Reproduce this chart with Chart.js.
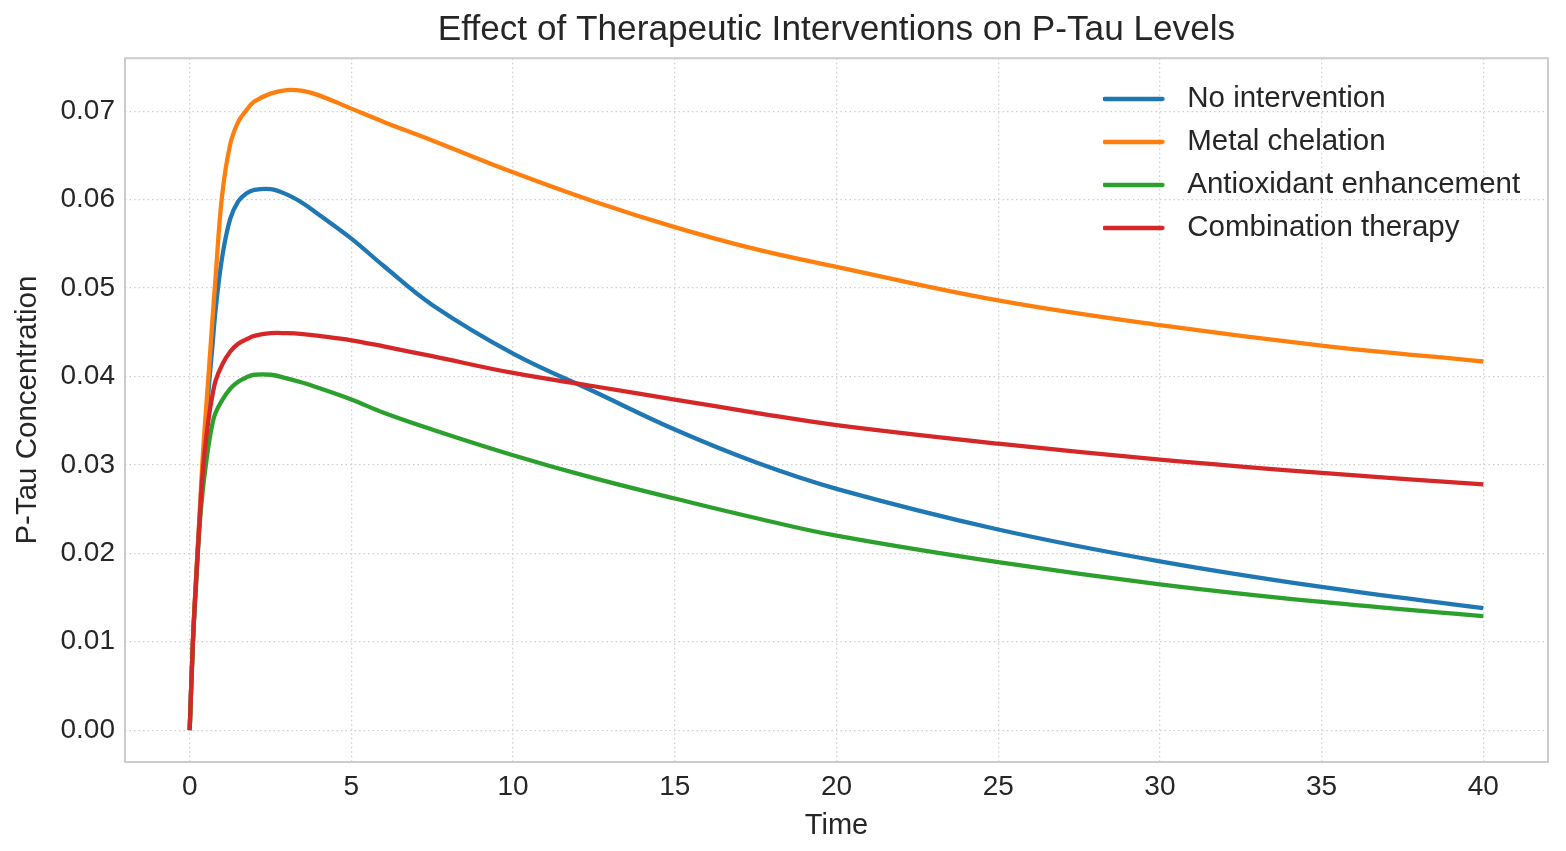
<!DOCTYPE html>
<html>
<head>
<meta charset="utf-8">
<title>Effect of Therapeutic Interventions on P-Tau Levels</title>
<script src="https://cdn.jsdelivr.net/npm/chart.js@4.4.1/dist/chart.umd.min.js"></script>
<style>
  html, body { margin: 0; padding: 0; background: #fff; }
  #wrap { width: 1566px; height: 851px; }
</style>
</head>
<body>
<div id="wrap"><canvas id="myChart" width="1566" height="851"></canvas></div>
<script>
// values
var times = [0, 0.1, 0.2, 0.3, 0.4, 0.5, 0.6, 0.7, 0.8, 1.0, 1.25, 1.5, 1.75, 2.0, 2.5, 3.0, 3.5, 4.0,
             5, 6, 7.5, 10, 12.5, 15, 17.5, 20, 25, 30, 35, 40];
var noIntervention = [0, 0.0100, 0.0172, 0.0236, 0.0295, 0.0345, 0.0392, 0.0433, 0.0475, 0.0534, 0.0578, 0.0598,
                      0.0607, 0.0611, 0.0612, 0.0606, 0.0596, 0.0583, 0.0556, 0.0525, 0.0481, 0.0426, 0.0383,
                      0.0340, 0.0303, 0.0273, 0.0227, 0.0191, 0.0162, 0.0138];
var metalChelation = [0, 0.0102, 0.0175, 0.0240, 0.0307, 0.0360, 0.0410, 0.0462, 0.0512, 0.0604, 0.0662, 0.0688,
                      0.0701, 0.0711, 0.0720, 0.0724, 0.0723, 0.0718, 0.0703, 0.0688, 0.0667, 0.0631, 0.0598,
                      0.0569, 0.0544, 0.0524, 0.0486, 0.0458, 0.0435, 0.0417];
var antioxidant = [0, 0.0098, 0.0166, 0.0228, 0.0270, 0.0300, 0.0326, 0.0346, 0.0359, 0.0373, 0.0386, 0.0394,
                   0.0399, 0.0402, 0.0402, 0.0398, 0.0393, 0.0387, 0.0374, 0.0359, 0.0340, 0.0311, 0.0285,
                   0.0262, 0.0240, 0.0220, 0.0190, 0.0165, 0.0145, 0.0129];
var combination = [0, 0.0100, 0.0170, 0.0232, 0.0290, 0.0327, 0.0356, 0.0378, 0.0395, 0.0413, 0.0428, 0.0437,
                   0.0442, 0.0446, 0.0449, 0.0449, 0.0448, 0.0446, 0.0441, 0.0434, 0.0423, 0.0404, 0.0389,
                   0.0374, 0.0359, 0.0345, 0.0324, 0.0306, 0.0291, 0.0278];
var seriesNames = ['No intervention', 'Metal chelation', 'Antioxidant enhancement', 'Combination therapy'];
var seriesColors = ['#1f77b4', '#ff7f0e', '#2ca02c', '#d62728'];
var xTicks = [0, 5, 10, 15, 20, 25, 30, 35, 40];
var yTicks = [0, 0.01, 0.02, 0.03, 0.04, 0.05, 0.06, 0.07];

Chart.defaults.font.family = "'Liberation Sans', Arial, sans-serif";
Chart.defaults.color = '#262626';

function toPoints(values) {
  return values.map(function(v, i) { return {x: times[i], y: v}; });
}

// short line sample used as the legend marker
function legendLine(color) {
  var c = document.createElement('canvas');
  c.width = 70; c.height = 8;
  var g = c.getContext('2d');
  g.strokeStyle = color; g.lineWidth = 4.3; g.lineCap = 'round';
  g.beginPath(); g.moveTo(2, 4); g.lineTo(60, 4); g.stroke();
  return c;
}

var framePlugin = {
  id: 'frame',
  beforeDatasetsDraw: function(chart) {
    var a = chart.chartArea, ctx = chart.ctx;
    ctx.save();
    ctx.strokeStyle = '#cccccc';
    ctx.lineWidth = 2;
    ctx.strokeRect(a.left, a.top, a.right - a.left, a.bottom - a.top);
    ctx.restore();
  }
};

// put the legend in the upper right corner of the plot
var legendPlugin = {
  id: 'legendInside',
  afterLayout: function(chart) {
    var l = chart.legend, a = chart.chartArea;
    l.left = a.right - 459;
    l.right = l.left + l.width;
    l.top = a.top + 12.5;
    l.bottom = l.top + l.height;
  }
};

var allSeries = [noIntervention, metalChelation, antioxidant, combination];
var datasets = allSeries.map(function(vals, i) {
  return {
    label: seriesNames[i],
    data: toPoints(vals),
    borderColor: seriesColors[i],
    backgroundColor: seriesColors[i],
    borderWidth: 4.3,
    pointRadius: 0,
    pointHoverRadius: 0,
    pointStyle: legendLine(seriesColors[i]),
    tension: 0.4,
    order: allSeries.length - i
  };
});

var ctx = document.getElementById('myChart').getContext('2d');
new Chart(ctx, {
  type: 'line',
  data: { datasets: datasets },
  plugins: [framePlugin, legendPlugin],
  options: {
    responsive: false,
    animation: false,
    layout: { padding: { left: 0, right: 18, top: 0, bottom: 0 } },
    plugins: {
      title: {
        display: true,
        fullSize: false,
        text: 'Effect of Therapeutic Interventions on P-Tau Levels',
        font: { size: 35.2, weight: 'normal' },
        color: '#262626',
        padding: { top: 9, bottom: 7 }
      },
      legend: {
        position: 'chartArea',
        align: 'start',
        labels: {
          usePointStyle: true,
          pointStyleWidth: 70,
          boxWidth: 70,
          padding: 13.5,
          font: { size: 29.5 },
          color: '#262626',
          sort: function(a, b) { return a.datasetIndex - b.datasetIndex; }
        }
      },
      tooltip: { enabled: false }
    },
    scales: {
      x: {
        type: 'linear',
        min: -2,
        max: 42,
        afterBuildTicks: function(s) { s.ticks = xTicks.map(function(v) { return {value: v}; }); },
        afterFit: function(s) { s.height = 89; },
        ticks: { font: { size: 28 }, color: '#262626', padding: 8, callback: function(v) { return String(v); } },
        grid: { color: '#cfcfcf', lineWidth: 1.3, drawTicks: false },
        border: { display: false, dash: [1.5, 3] },
        title: { display: true, text: 'Time', font: { size: 29 }, color: '#262626', padding: { top: 4, bottom: 8 } }
      },
      y: {
        min: -0.0036,
        max: 0.0760,
        afterBuildTicks: function(s) { s.ticks = yTicks.map(function(v) { return {value: v}; }); },
        afterFit: function(s) { s.width = 125; },
        ticks: { font: { size: 28 }, color: '#262626', padding: 10, callback: function(v) { return v.toFixed(2); } },
        grid: { color: '#cfcfcf', lineWidth: 1.3, drawTicks: false },
        border: { display: false, dash: [1.5, 3] },
        title: { display: true, text: 'P-Tau Concentration', font: { size: 29.5 }, color: '#262626', padding: { top: 10, bottom: 4 } }
      }
    }
  }
});
</script>
</body>
</html>
